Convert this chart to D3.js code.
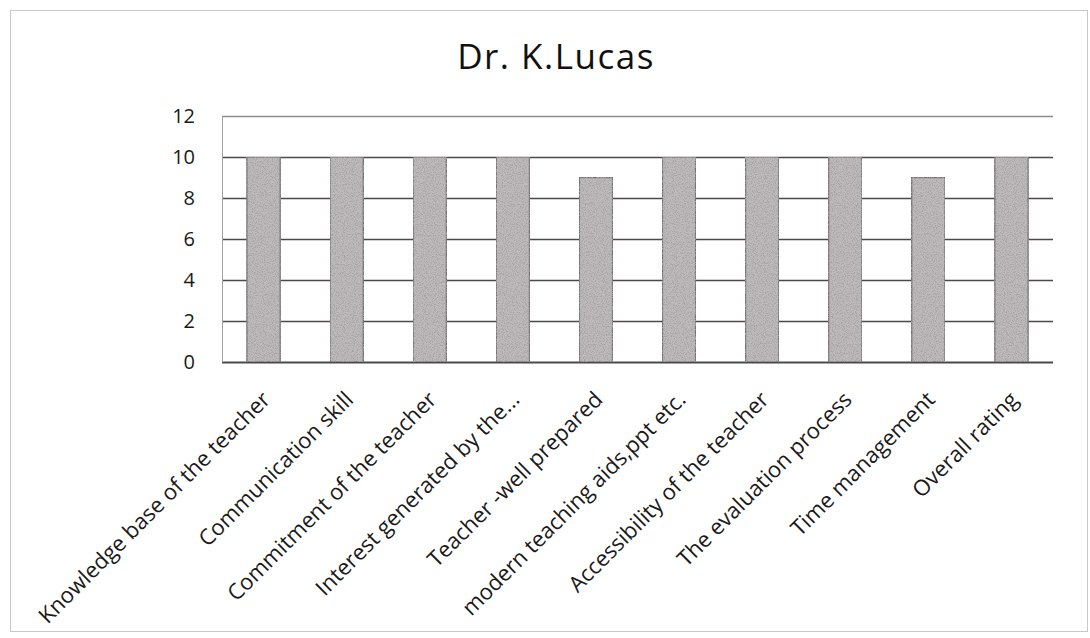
<!DOCTYPE html>
<html><head><meta charset="utf-8">
<script src="https://cdn.jsdelivr.net/npm/d3@7"></script>
<style>body{margin:0;background:#fff}svg{display:block}</style>
</head><body>
<script>
const title = "Dr. K.Lucas";
const categories = ["Knowledge base of the teacher","Communication skill","Commitment of the teacher","Interest generated by the...","Teacher -well prepared","modern teaching aids,ppt etc.","Accessibility of the teacher","The evaluation process","Time management","Overall rating"];
const values = [10,10,10,10,9,10,10,10,9,10];
const yTicks = [0,2,4,6,8,10,12];

const W=1090,H=638;
const m={left:222,right:1053,top:116,bottom:362};
const FONT="'Open Sans', 'Noto Sans', sans-serif";
const svg=d3.select("body").append("svg").attr("width",W).attr("height",H);

const defs=svg.append("defs");
const f=defs.append("filter").attr("id","grain").attr("x",0).attr("y",0).attr("width",1).attr("height",1);
f.append("feTurbulence").attr("type","fractalNoise").attr("baseFrequency",0.9).attr("numOctaves",2).attr("seed",7).attr("result","n");
f.append("feColorMatrix").attr("in","n").attr("type","matrix")
 .attr("values","0 0 0 0 0.38  0 0 0 0 0.36  0 0 0 0 0.37  3.6 0 0 0 -1.55").attr("result","dots");
f.append("feComposite").attr("in","dots").attr("in2","SourceGraphic").attr("operator","in").attr("result","d2");
f.append("feMerge").selectAll("x").data(["SourceGraphic","d2"]).join("feMergeNode").attr("in",d=>d);

svg.append("rect").attr("x",10.5).attr("y",10.5).attr("width",1077).attr("height",621)
  .attr("fill","#fff").attr("stroke","#c8c8c8").attr("stroke-width",1);

const x=d3.scaleBand().domain(categories).range([m.left,m.right]).paddingInner(0.6).paddingOuter(0.3);
const y=d3.scaleLinear().domain([0,12]).range([m.bottom,m.top]);

// gridlines
svg.append("g").selectAll("line").data(yTicks).join("line")
  .attr("x1",m.left).attr("x2",m.right)
  .attr("y1",d=>Math.round(y(d))+0.5).attr("y2",d=>Math.round(y(d))+0.5)
  .attr("stroke",d=>d===12?"#8a8a8a":"#4a4a4a").attr("stroke-width",d=>d===0?1.8:1.4);
svg.append("line").attr("x1",m.left+0.5).attr("x2",m.left+0.5).attr("y1",m.top).attr("y2",m.bottom)
  .attr("stroke","#a0a0a0");

// y axis labels
const ya=svg.append("g").attr("transform",`translate(195,0)`)
  .call(d3.axisLeft(y).tickValues(yTicks).tickSize(0).tickPadding(0));
ya.select(".domain").remove();
ya.selectAll("text").attr("font-family",FONT).attr("font-size",20).attr("fill","#1a1a1a");

// bars
svg.append("g").selectAll("rect").data(values).join("rect")
  .attr("x",(d,i)=>x(categories[i])).attr("width",x.bandwidth())
  .attr("y",d=>y(d)).attr("height",d=>y(0)-y(d))
  .attr("fill","#bfbbbc").attr("stroke","#747071").attr("stroke-width",1.4)
  .attr("filter","url(#grain)");

// x labels
const xa=svg.append("g").attr("transform",`translate(0,${m.bottom})`)
  .call(d3.axisBottom(x).tickSize(0).tickPadding(0));
xa.select(".domain").remove();
xa.selectAll("text")
  .attr("font-family",FONT).attr("font-size",22).attr("fill","#1a1a1a")
  .attr("text-anchor","end").attr("dy",0).attr("y",0)
  .attr("transform","translate(8,39) rotate(-45)");

// title
svg.append("text").attr("x",556).attr("y",69).attr("text-anchor","middle")
  .attr("font-family",FONT).attr("font-size",35).attr("letter-spacing",1.5).attr("fill","#111")
  .text(title);
</script>
</body></html>
